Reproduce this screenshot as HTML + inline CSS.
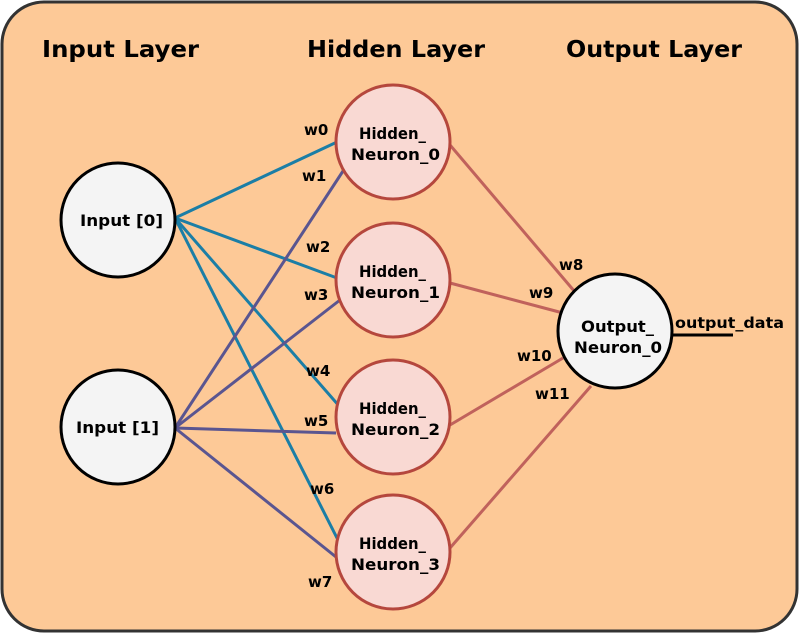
<!DOCTYPE html>
<html><head><style>body{margin:0;background:#fff}svg{display:block}text{font-family:"DejaVu Sans",Verdana,sans-serif;font-weight:bold;fill:#000}</style></head><body>
<svg width="799" height="633" viewBox="0 0 799 633">
<rect x="2" y="2" width="795" height="629" rx="42" fill="#fdc997" stroke="#333" stroke-width="3"/>
<text x="42" y="57" font-size="23" textLength="157" lengthAdjust="spacingAndGlyphs">Input Layer</text>
<text x="307" y="57" font-size="23" textLength="178" lengthAdjust="spacingAndGlyphs">Hidden Layer</text>
<text x="566" y="57" font-size="23" textLength="176" lengthAdjust="spacingAndGlyphs">Output Layer</text>
<g stroke="#1b7ea6" stroke-width="3">
<line x1="175" y1="218" x2="337" y2="142"/>
<line x1="175" y1="218" x2="337" y2="278"/>
<line x1="175" y1="218" x2="340" y2="407"/>
<line x1="175" y1="218" x2="338" y2="540"/>
</g>
<g stroke="#5a5590" stroke-width="3">
<line x1="175" y1="428" x2="345" y2="168"/>
<line x1="175" y1="428" x2="340" y2="300"/>
<line x1="175" y1="428" x2="336" y2="433"/>
<line x1="175" y1="428" x2="336" y2="557"/>
</g>
<g stroke="#c0625c" stroke-width="3">
<line x1="450" y1="145" x2="575" y2="292"/>
<line x1="450" y1="283" x2="563" y2="313"/>
<line x1="450" y1="425" x2="563" y2="358"/>
<line x1="450" y1="548" x2="591" y2="386"/>
</g>
<line x1="672" y1="335" x2="733" y2="335" stroke="#000" stroke-width="3"/>
<g fill="#f9d9d3" stroke="#b5473d" stroke-width="3">
<circle cx="393" cy="142" r="57"/><circle cx="393" cy="280" r="57"/>
<circle cx="393" cy="417" r="57"/><circle cx="393" cy="552" r="57"/>
</g>
<g fill="#f4f4f4" stroke="#000" stroke-width="3">
<circle cx="118" cy="220" r="57"/><circle cx="118" cy="427" r="57"/>
<circle cx="615" cy="331" r="57"/>
</g>
<g font-size="16">
<text x="80" y="226" textLength="83" lengthAdjust="spacingAndGlyphs">Input [0]</text>
<text x="76" y="433" textLength="83" lengthAdjust="spacingAndGlyphs">Input [1]</text>
<text x="359" y="139" textLength="67" lengthAdjust="spacingAndGlyphs">Hidden_</text><text x="351" y="160" textLength="89" lengthAdjust="spacingAndGlyphs">Neuron_0</text>
<text x="359" y="277" textLength="67" lengthAdjust="spacingAndGlyphs">Hidden_</text><text x="351" y="298" textLength="89" lengthAdjust="spacingAndGlyphs">Neuron_1</text>
<text x="359" y="414" textLength="67" lengthAdjust="spacingAndGlyphs">Hidden_</text><text x="351" y="435" textLength="89" lengthAdjust="spacingAndGlyphs">Neuron_2</text>
<text x="359" y="549" textLength="67" lengthAdjust="spacingAndGlyphs">Hidden_</text><text x="351" y="570" textLength="89" lengthAdjust="spacingAndGlyphs">Neuron_3</text>
<text x="581" y="332" textLength="73" lengthAdjust="spacingAndGlyphs">Output_</text><text x="574" y="353" textLength="88" lengthAdjust="spacingAndGlyphs">Neuron_0</text>
</g>
<g font-size="15">
<text x="304" y="135">w0</text><text x="302" y="181">w1</text>
<text x="306" y="252">w2</text><text x="304" y="300">w3</text>
<text x="306" y="376">w4</text><text x="304" y="426">w5</text>
<text x="310" y="494">w6</text><text x="308" y="587">w7</text>
<text x="559" y="270">w8</text><text x="529" y="298">w9</text>
<text x="517" y="361">w10</text><text x="535" y="399">w11</text>
<text x="675" y="328" textLength="109" lengthAdjust="spacingAndGlyphs">output_data</text>
</g>
</svg>
</body></html>
